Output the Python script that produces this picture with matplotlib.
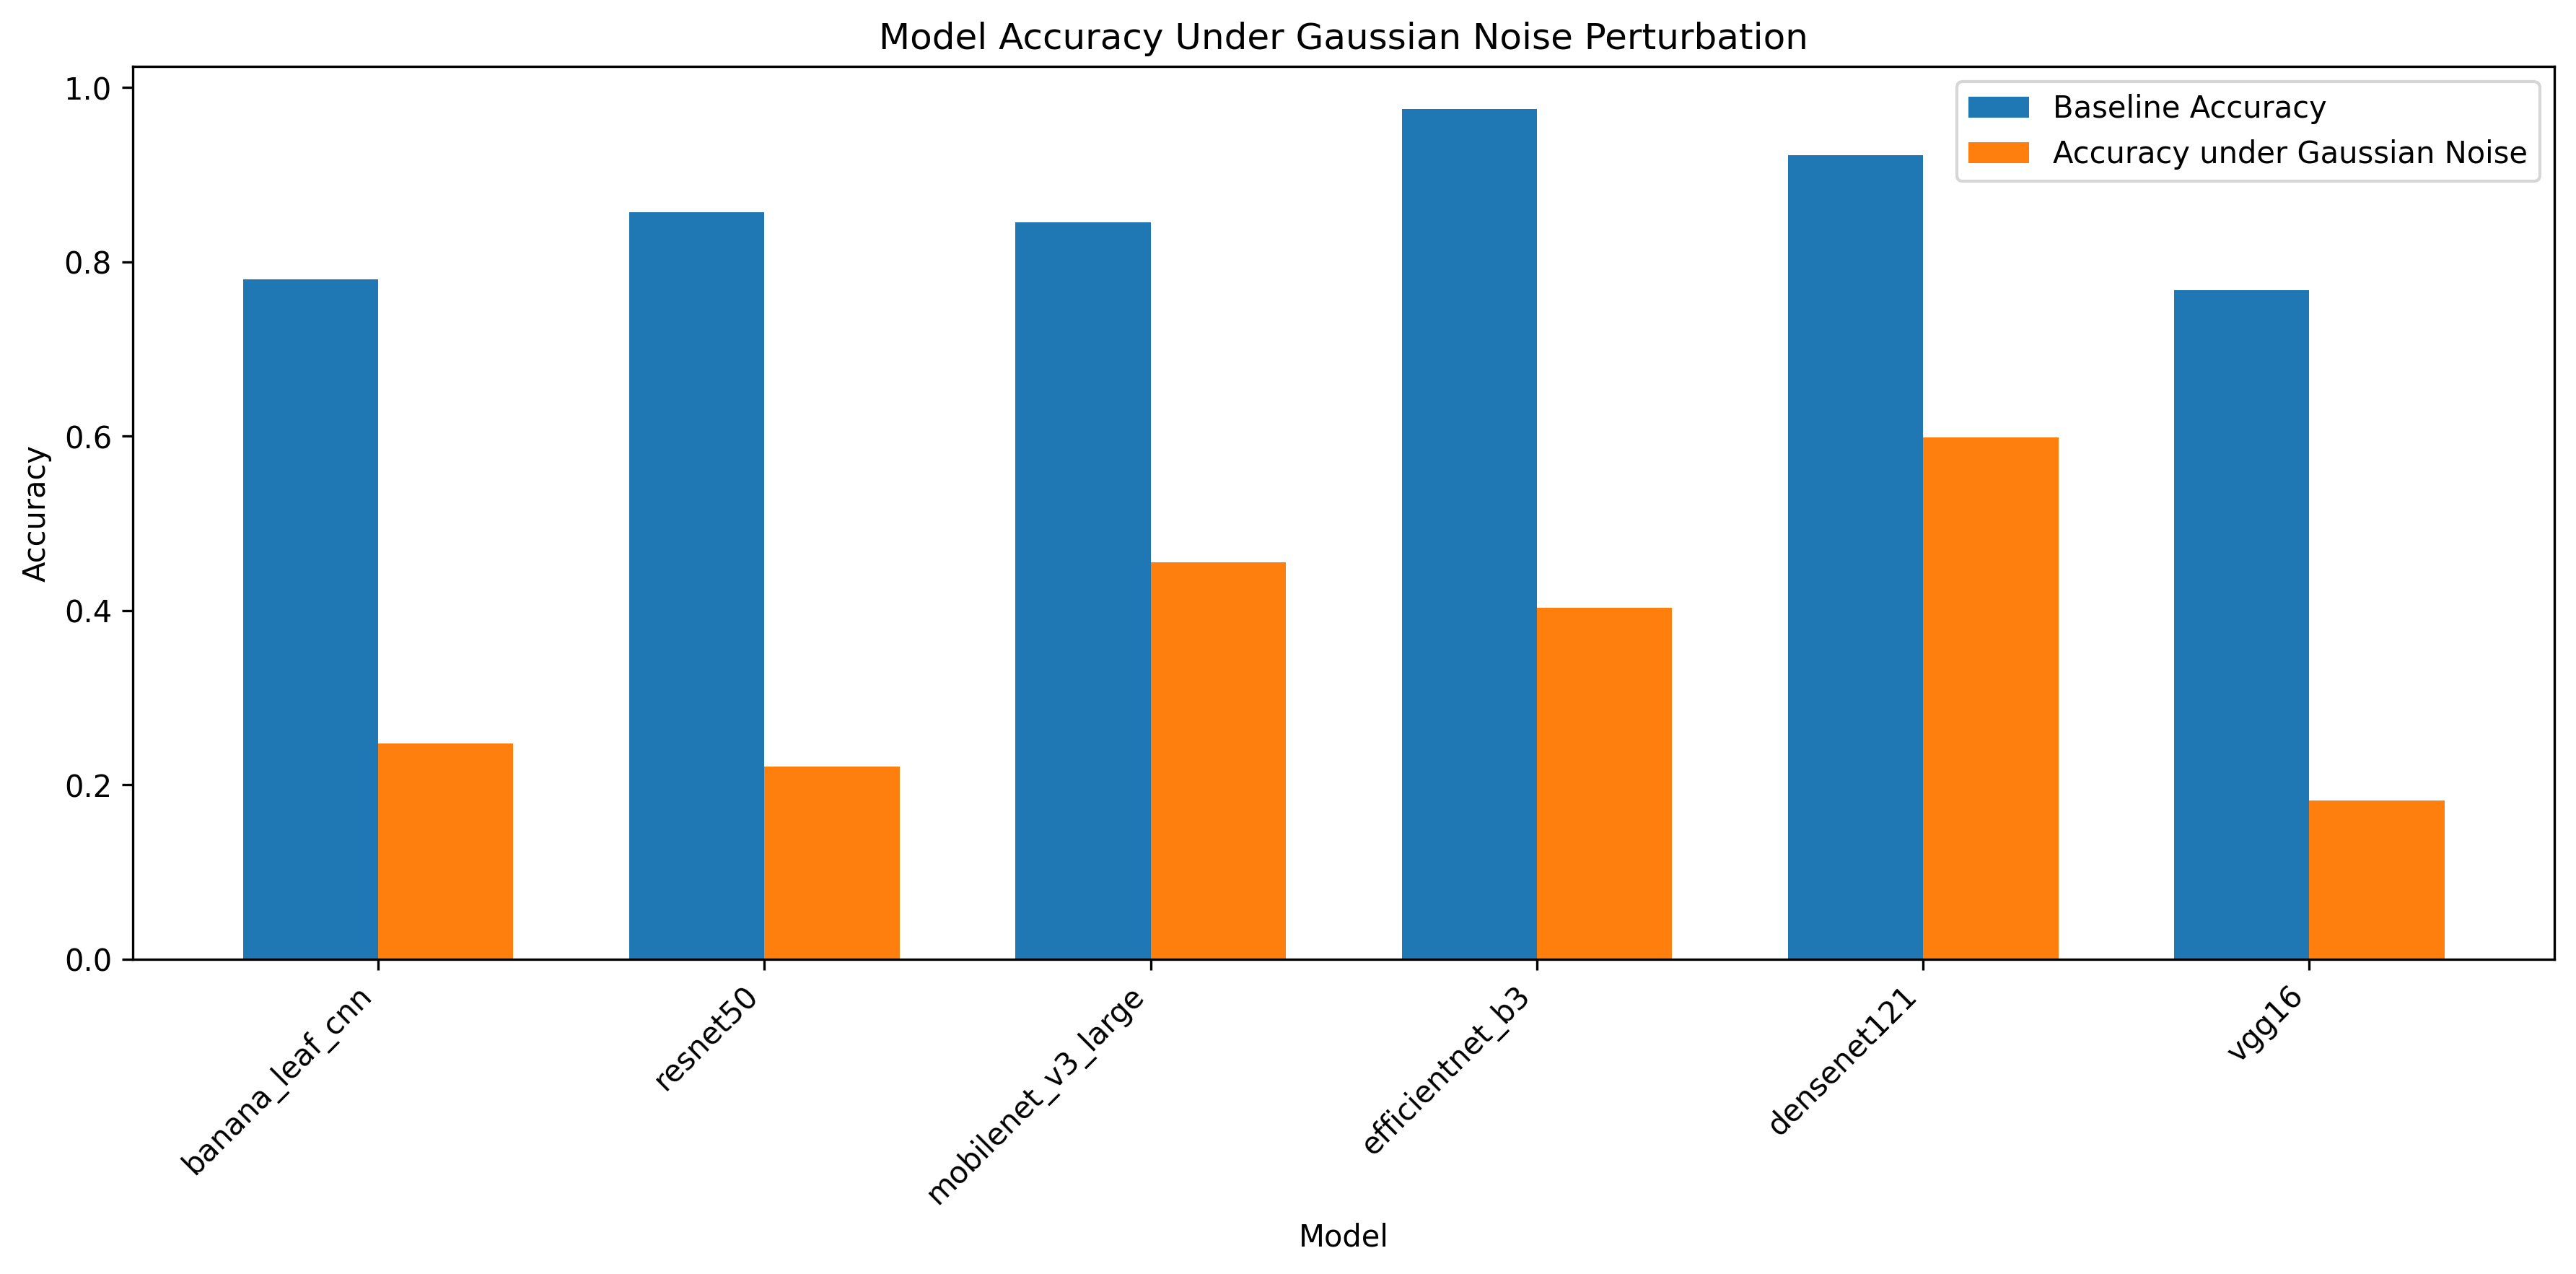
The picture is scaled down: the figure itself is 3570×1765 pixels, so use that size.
import matplotlib
matplotlib.use("Agg")
import matplotlib.pyplot as plt
import numpy as np

models = ["banana_leaf_cnn", "resnet50", "mobilenet_v3_large", "efficientnet_b3", "densenet121", "vgg16"]
baseline = [0.780, 0.857, 0.845, 0.975, 0.922, 0.767]
noisy = [0.247, 0.221, 0.455, 0.403, 0.598, 0.182]

fig, ax = plt.subplots(figsize=(12, 6))
x = np.arange(len(models))
w = 0.35
ax.bar(x - w / 2, baseline, w, label="Baseline Accuracy", color="#1f77b4")
ax.bar(x + w / 2, noisy, w, label="Accuracy under Gaussian Noise", color="#ff7f0e")
ax.set_xticks(x)
ax.set_xticklabels(models, rotation=45, ha="right")
ax.set_xlabel("Model")
ax.set_ylabel("Accuracy")
ax.set_title("Model Accuracy Under Gaussian Noise Perturbation")
ax.legend(loc="upper right")
fig.tight_layout()
fig.savefig("out.png", dpi=300, bbox_inches="tight")
